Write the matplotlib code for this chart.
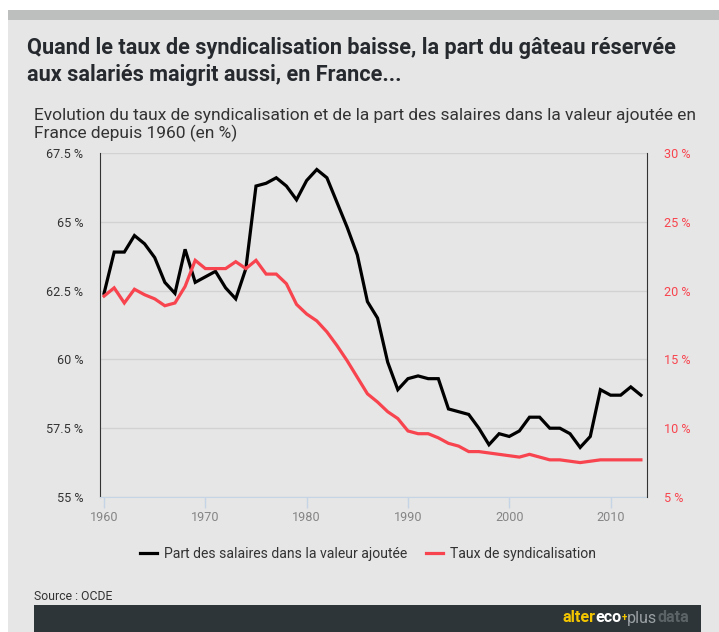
import matplotlib
matplotlib.use("Agg")
import matplotlib.pyplot as plt
from matplotlib.patches import Rectangle

# Données (OCDE)
years = list(range(1960, 2014))
wage_share = [62.4, 63.9, 63.9, 64.5, 64.2, 63.7, 62.8, 62.4, 64.0, 62.8,
              63.0, 63.2, 62.6, 62.2, 63.3, 66.3, 66.4, 66.6, 66.3, 65.8,
              66.5, 66.9, 66.6, 65.7, 64.8, 63.8, 62.1, 61.5, 59.9, 58.9,
              59.3, 59.4, 59.3, 59.3, 58.2, 58.1, 58.0, 57.5, 56.9, 57.3,
              57.2, 57.4, 57.9, 57.9, 57.5, 57.5, 57.3, 56.8, 57.2, 58.9,
              58.7, 58.7, 59.0, 58.7]
union_rate = [19.6, 20.2, 19.1, 20.1, 19.7, 19.4, 18.9, 19.1, 20.3, 22.2,
              21.6, 21.6, 21.6, 22.1, 21.6, 22.2, 21.2, 21.2, 20.5, 19.0,
              18.3, 17.8, 17.0, 16.0, 14.9, 13.7, 12.5, 11.9, 11.2, 10.7,
              9.8, 9.6, 9.6, 9.3, 8.9, 8.7, 8.3, 8.3, 8.2, 8.1,
              8.0, 7.9, 8.1, 7.9, 7.7, 7.7, 7.6, 7.5, 7.6, 7.7,
              7.7, 7.7, 7.7, 7.7]
left_ticks = [55, 57.5, 60, 62.5, 65, 67.5]
left_labels = ["55 %", "57.5 %", "60 %", "62.5 %", "65 %", "67.5 %"]
right_ticks = [5, 10, 15, 20, 25, 30]
right_labels = ["5 %", "10 %", "15 %", "20 %", "25 %", "30 %"]
x_ticks = [1960, 1970, 1980, 1990, 2000, 2010]

title_lines = ["Quand le taux de syndicalisation baisse, la part du gâteau réservée",
               "aux salariés maigrit aussi, en France..."]
subtitle_lines = ["Evolution du taux de syndicalisation et de la part des salaires dans la valeur ajoutée en",
                  "France depuis 1960 (en %)"]

FONT = ["Roboto", "DejaVu Sans"]
BG = "#e6e6e6"
BLACK = "#000000"
RED = "#f8444e"

W, H = 719, 632
fig = plt.figure(figsize=(W / 100, H / 100), dpi=100, facecolor="white")


def fx(x):
    return x / W


def fy(y):
    return 1 - y / H


# fond, bandeau et pied de page
fig.add_artist(Rectangle((fx(8), 0), fx(W - 8), fy(20), transform=fig.transFigure,
                         facecolor=BG, edgecolor="none", zorder=0))
fig.add_artist(Rectangle((fx(8), fy(20)), fx(W - 8), fy(10) - fy(20), transform=fig.transFigure,
                         facecolor="#bdbfbf", edgecolor="none", zorder=0))
fig.add_artist(Rectangle((fx(34), 0), fx(701 - 34), fy(605), transform=fig.transFigure,
                         facecolor="#2d3538", edgecolor="none", zorder=0))

for line, yb in zip(title_lines, [54, 81]):
    fig.text(fx(27), fy(yb), line, family=FONT, weight="bold", fontsize=15.6,
             color="#262a2e", va="baseline", ha="left")
for line, yb in zip(subtitle_lines, [120, 138]):
    fig.text(fx(34), fy(yb), line, family=FONT, fontsize=12.5,
             color="#333333", va="baseline", ha="left")
fig.text(fx(34), fy(597), "Source : OCDE", family=FONT, fontsize=8.8,
         color="#333333", va="center", ha="left")

# logo
lx = 689
for txt, col, wt in [("data", "#5b6366", "bold"), ("plus", "#9aa0a3", "normal"),
                     ("+", "#f2c500", "bold"), ("eco", "#ffffff", "bold"),
                     ("alter", "#f2c500", "bold")]:
    size = 7 if txt == "+" else 11.6
    t = fig.text(fx(lx), fy(618), txt, family=FONT, fontsize=size, weight=wt,
                 color=col, va="center", ha="right")
    fig.canvas.draw()
    lx -= t.get_window_extent().width

# graphique
ax = fig.add_axes([fx(100), fy(497), fx(647 - 100), fy(153) - fy(497)])
ax.set_facecolor(BG)
ax2 = ax.twinx()

l1, = ax.plot(years, wage_share, color=BLACK, lw=2.3, solid_joinstyle="miter", zorder=3)
l2, = ax2.plot(years, union_rate, color=RED, lw=2.3, solid_joinstyle="miter", zorder=3)

ax.set_xlim(1959.6, 2013.6)
ax.set_ylim(55, 67.5)
ax2.set_ylim(5, 30)

ax.set_yticks(left_ticks)
ax.set_yticklabels(left_labels, family=FONT, fontsize=9.1, color="#333333")
ax2.set_yticks(right_ticks)
ax2.set_yticklabels(right_labels, family=FONT, fontsize=9.1, color=RED)
ax.set_xticks(x_ticks)
ax.set_xticklabels([str(v) for v in x_ticks], family=FONT, fontsize=9.1, color="#858585")

ax.grid(axis="y", color="#d2d2d2", lw=1)
ax.set_axisbelow(True)
ax.tick_params(axis="y", length=0, pad=12)
ax2.tick_params(axis="y", length=0, pad=12)
ax.tick_params(axis="x", length=8, color="#c5d5e5", width=1, pad=2)

for a in (ax, ax2):
    a.spines["top"].set_visible(False)
ax2.spines["bottom"].set_visible(False)
ax.spines["bottom"].set_color("#c5d5e5")
ax.spines["left"].set_color("#333333")
ax2.spines["left"].set_visible(False)
ax.spines["right"].set_visible(False)
ax2.spines["right"].set_color("#333333")

leg = fig.legend([l1, l2], ["Part des salaires dans la valeur ajoutée", "Taux de syndicalisation"],
                 loc="center", bbox_to_anchor=(fx(368), fy(554)), ncol=2, frameon=False,
                 prop={"family": FONT, "size": 10.1}, handlelength=1.2,
                 handletextpad=0.5, columnspacing=1.4)
for t in leg.get_texts():
    t.set_color("#333333")

fig.savefig("out.png", dpi=100, facecolor="white")
